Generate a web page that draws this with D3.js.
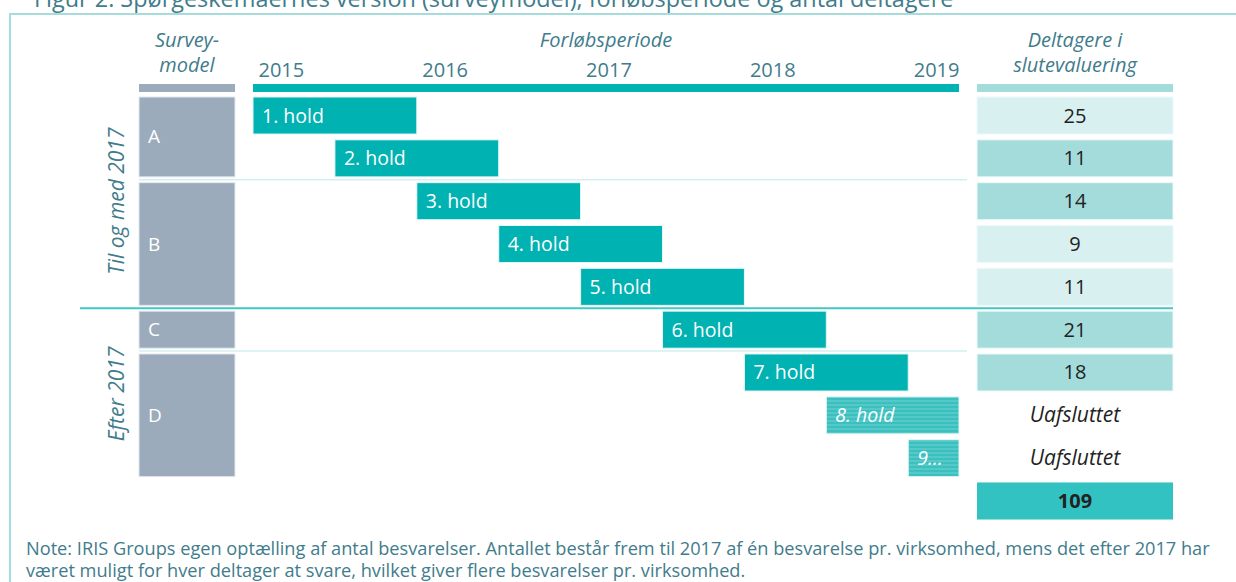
<!DOCTYPE html>
<html>
<head>
<meta charset="utf-8">
<script src="https://cdn.jsdelivr.net/npm/d3@7"></script>
<style>
  body { margin: 0; background: #fff; }
  svg { display: block; font-family: "Open Sans", sans-serif; }
</style>
</head>
<body>
<svg id="chart" width="1236" height="582"></svg>
<script>
// data
const title = "Figur 2. Spørgeskemaernes version (surveymodel), forløbsperiode og antal deltagere"
const holds = ["1. hold", "2. hold", "3. hold", "4. hold", "5. hold", "6. hold", "7. hold", "8. hold", "9…"]
const holdStart = [2015, 2015.5, 2016, 2016.5, 2017, 2017.5, 2018, 2018.5, 2019]
const holdEnd = [2016, 2016.5, 2017, 2017.5, 2018, 2018.5, 2019, 2019.31, 2019.31]
const holdModel = ["A", "A", "B", "B", "B", "C", "D", "D", "D"]
const participants = [25, 11, 14, 9, 11, 21, 18, null, null]
const totalParticipants = 109
const unfinishedLabel = "Uafsluttet"
const years = [2015, 2016, 2017, 2018, 2019]
const periodStart = 2015, periodEnd = 2019.31
const models = ["A", "B", "C", "D"]
const periods = ["Til og med 2017", "Efter 2017"]
const periodModels = [["A", "B"], ["C", "D"]]
const note = [
  "Note: IRIS Groups egen optælling af antal besvarelser. Antallet består frem til 2017 af én besvarelse pr. virksomhed, mens det efter 2017 har",
  "været muligt for hver deltager at svare, hvilket giver flere besvarelser pr. virksomhed."
]

// style
const cellShade = ["light", "mid", "mid", "light", "light", "mid", "mid", "none", "none"]
const C = {
  text: "#3f7c8c", gray: "#9babbb", teal: "#00b2b2", light: "#d9f0f0", mid: "#a4dcdc",
  total: "#33c2c2", frame: "#a6dcdc", sepLight: "#d3efef", sepStrong: "#45c6c6", dark: "#222"
}

const svg = d3.select("#chart")

// hatch pattern for unfinished holds
const defs = svg.append("defs")
const pat = defs.append("pattern").attr("id", "hatch")
  .attr("patternUnits", "userSpaceOnUse").attr("width", 4).attr("height", 4)
pat.append("rect").attr("width", 4).attr("height", 4).attr("fill", "#3bbfbf")
pat.append("rect").attr("width", 4).attr("height", 2).attr("fill", "#55c8c8")

// frame + title
svg.append("path").attr("d", "M10,582V14H1236").attr("fill", "none")
  .attr("stroke", C.frame).attr("stroke-width", 2)

function fitText(sel, target) {
  const w = sel.node().getComputedTextLength()
  const fs = parseFloat(sel.attr("font-size"))
  sel.attr("font-size", fs * target / w)
}
svg.append("text").attr("x", 34).attr("y", 7).attr("font-size", 22)
  .attr("fill", C.text).text(title).call(fitText, 920)

// scales
const x = d3.scaleLinear().domain([periodStart, periodEnd]).range([253, 959])
const rowIds = holds.map((d, i) => i).concat(["total"])
const y = d3.scaleBand().domain(rowIds).range([97, 519.5]).paddingInner(0.135).paddingOuter(0)
const bw = y.bandwidth()
const modelCol = { x0: 139, x1: 235 }
const cellCol = { x0: 977, x1: 1173 }

// headers
const hdr = svg.append("g").attr("fill", C.text).attr("font-style", "italic")
  .attr("font-size", 20).attr("text-anchor", "middle")
hdr.append("text").attr("x", (modelCol.x0 + modelCol.x1) / 2).attr("y", 47).text("Survey-")
hdr.append("text").attr("x", (modelCol.x0 + modelCol.x1) / 2).attr("y", 72).text("model")
hdr.append("text").attr("x", (x.range()[0] + x.range()[1]) / 2).attr("y", 47).text("Forløbsperiode")
hdr.append("text").attr("x", (cellCol.x0 + cellCol.x1) / 2).attr("y", 47).text("Deltagere i")
hdr.append("text").attr("x", (cellCol.x0 + cellCol.x1) / 2).attr("y", 72).text("slutevaluering")

// year axis
svg.append("g").attr("transform", "translate(0,77)")
  .call(d3.axisTop(x).tickValues(years).tickFormat(d3.format("d")).tickSize(0))
  .call(g => g.select(".domain").remove())
  .call(g => g.selectAll("text").attr("text-anchor", "start").attr("dx", 5).attr("y", 0)
    .attr("font-size", 20).attr("font-family", "Open Sans").attr("fill", C.text))

const hy = y(0) - 13
svg.append("rect").attr("x", modelCol.x0).attr("y", hy).attr("width", modelCol.x1 - modelCol.x0).attr("height", 8).attr("fill", C.gray)
svg.append("rect").attr("x", x(periodStart)).attr("y", hy).attr("width", x(periodEnd) - x(periodStart)).attr("height", 8).attr("fill", C.teal)
svg.append("rect").attr("x", cellCol.x0).attr("y", hy).attr("width", cellCol.x1 - cellCol.x0).attr("height", 8).attr("fill", C.mid)

// model blocks
const modelRows = models.map(m => {
  const idx = holdModel.map((d, i) => d === m ? i : -1).filter(i => i >= 0)
  return { m, first: d3.min(idx), last: d3.max(idx) }
})
// separators: light inside a period, strong between periods
modelRows.forEach((r, k) => {
  if (k === 0) return
  const prevPeriod = periodModels.findIndex(p => p.includes(modelRows[k - 1].m))
  const curPeriod = periodModels.findIndex(p => p.includes(r.m))
  const sy = (y(r.first) + y(r.first - 1) + bw) / 2
  if (prevPeriod === curPeriod) {
    svg.append("line").attr("x1", modelCol.x0).attr("x2", 967).attr("y1", sy).attr("y2", sy)
      .attr("stroke", C.sepLight).attr("stroke-width", 1.5)
  } else {
    svg.append("line").attr("x1", 80).attr("x2", cellCol.x1).attr("y1", sy).attr("y2", sy)
      .attr("stroke", C.sepStrong).attr("stroke-width", 2)
  }
})

const mg = svg.selectAll(".model").data(modelRows).join("g").attr("class", "model")
mg.append("rect").attr("x", modelCol.x0).attr("y", d => y(d.first))
  .attr("width", modelCol.x1 - modelCol.x0).attr("height", d => y(d.last) + bw - y(d.first))
  .attr("fill", C.gray).attr("stroke", "#e4e9ee").attr("stroke-width", 1)
mg.append("text").attr("x", modelCol.x0 + 9).attr("y", d => (y(d.first) + y(d.last) + bw) / 2 + 6.5)
  .attr("fill", "#fff").attr("font-size", 19).text(d => d.m)

// period labels
periods.forEach((p, i) => {
  const ms = modelRows.filter(r => periodModels[i].includes(r.m))
  const cy = (y(d3.min(ms, r => r.first)) + y(d3.max(ms, r => r.last)) + bw) / 2
  svg.append("text").attr("transform", `translate(124,${cy}) rotate(-90)`)
    .attr("text-anchor", "middle").attr("font-size", 21).attr("font-style", "italic")
    .attr("fill", C.text).text(p)
})

// hold bars
const hb = svg.selectAll(".hold").data(holds.map((h, i) => ({ h, i })))
  .join("g").attr("class", "hold")
hb.append("rect").attr("x", d => x(holdStart[d.i])).attr("y", d => y(d.i))
  .attr("width", d => x(holdEnd[d.i]) - x(holdStart[d.i])).attr("height", bw)
  .attr("fill", d => participants[d.i] == null ? "url(#hatch)" : C.teal)
  .attr("stroke", "#e6f6f6").attr("stroke-width", 1)
hb.append("text").attr("x", d => x(holdStart[d.i]) + 9)
  .attr("y", d => y(d.i) + bw / 2 + 7)
  .attr("fill", "#fff").attr("font-size", 19.5)
  .attr("font-style", d => participants[d.i] == null ? "italic" : null)
  .text(d => d.h)

// participants column
const cg = svg.selectAll(".cell").data(participants.map((v, i) => ({ v, i })))
  .join("g").attr("class", "cell")
cg.filter(d => cellShade[d.i] !== "none").append("rect")
  .attr("x", cellCol.x0).attr("y", d => y(d.i)).attr("width", cellCol.x1 - cellCol.x0).attr("height", bw)
  .attr("fill", d => C[cellShade[d.i]]).attr("stroke", "#eef9f9").attr("stroke-width", 1)
cg.append("text").attr("x", (cellCol.x0 + cellCol.x1) / 2).attr("y", d => y(d.i) + bw / 2 + 7)
  .attr("text-anchor", "middle").attr("font-size", d => d.v == null ? 21 : 20).attr("fill", C.dark)
  .attr("font-style", d => d.v == null ? "italic" : null)
  .text(d => d.v == null ? unfinishedLabel : d.v)

svg.append("rect").attr("x", cellCol.x0).attr("y", y("total"))
  .attr("width", cellCol.x1 - cellCol.x0).attr("height", bw).attr("fill", C.total)
svg.append("text").attr("x", (cellCol.x0 + cellCol.x1) / 2).attr("y", y("total") + bw / 2 + 7)
  .attr("text-anchor", "middle").attr("font-size", 20).attr("font-weight", "bold")
  .attr("fill", C.dark).text(totalParticipants)

// note
const n1 = svg.append("text").attr("x", 26).attr("y", 555).attr("font-size", 16)
  .attr("fill", C.text).text(note[0]).call(fitText, 1184)
svg.append("text").attr("x", 26).attr("y", 577).attr("font-size", n1.attr("font-size"))
  .attr("fill", C.text).text(note[1])
</script>
</body>
</html>
